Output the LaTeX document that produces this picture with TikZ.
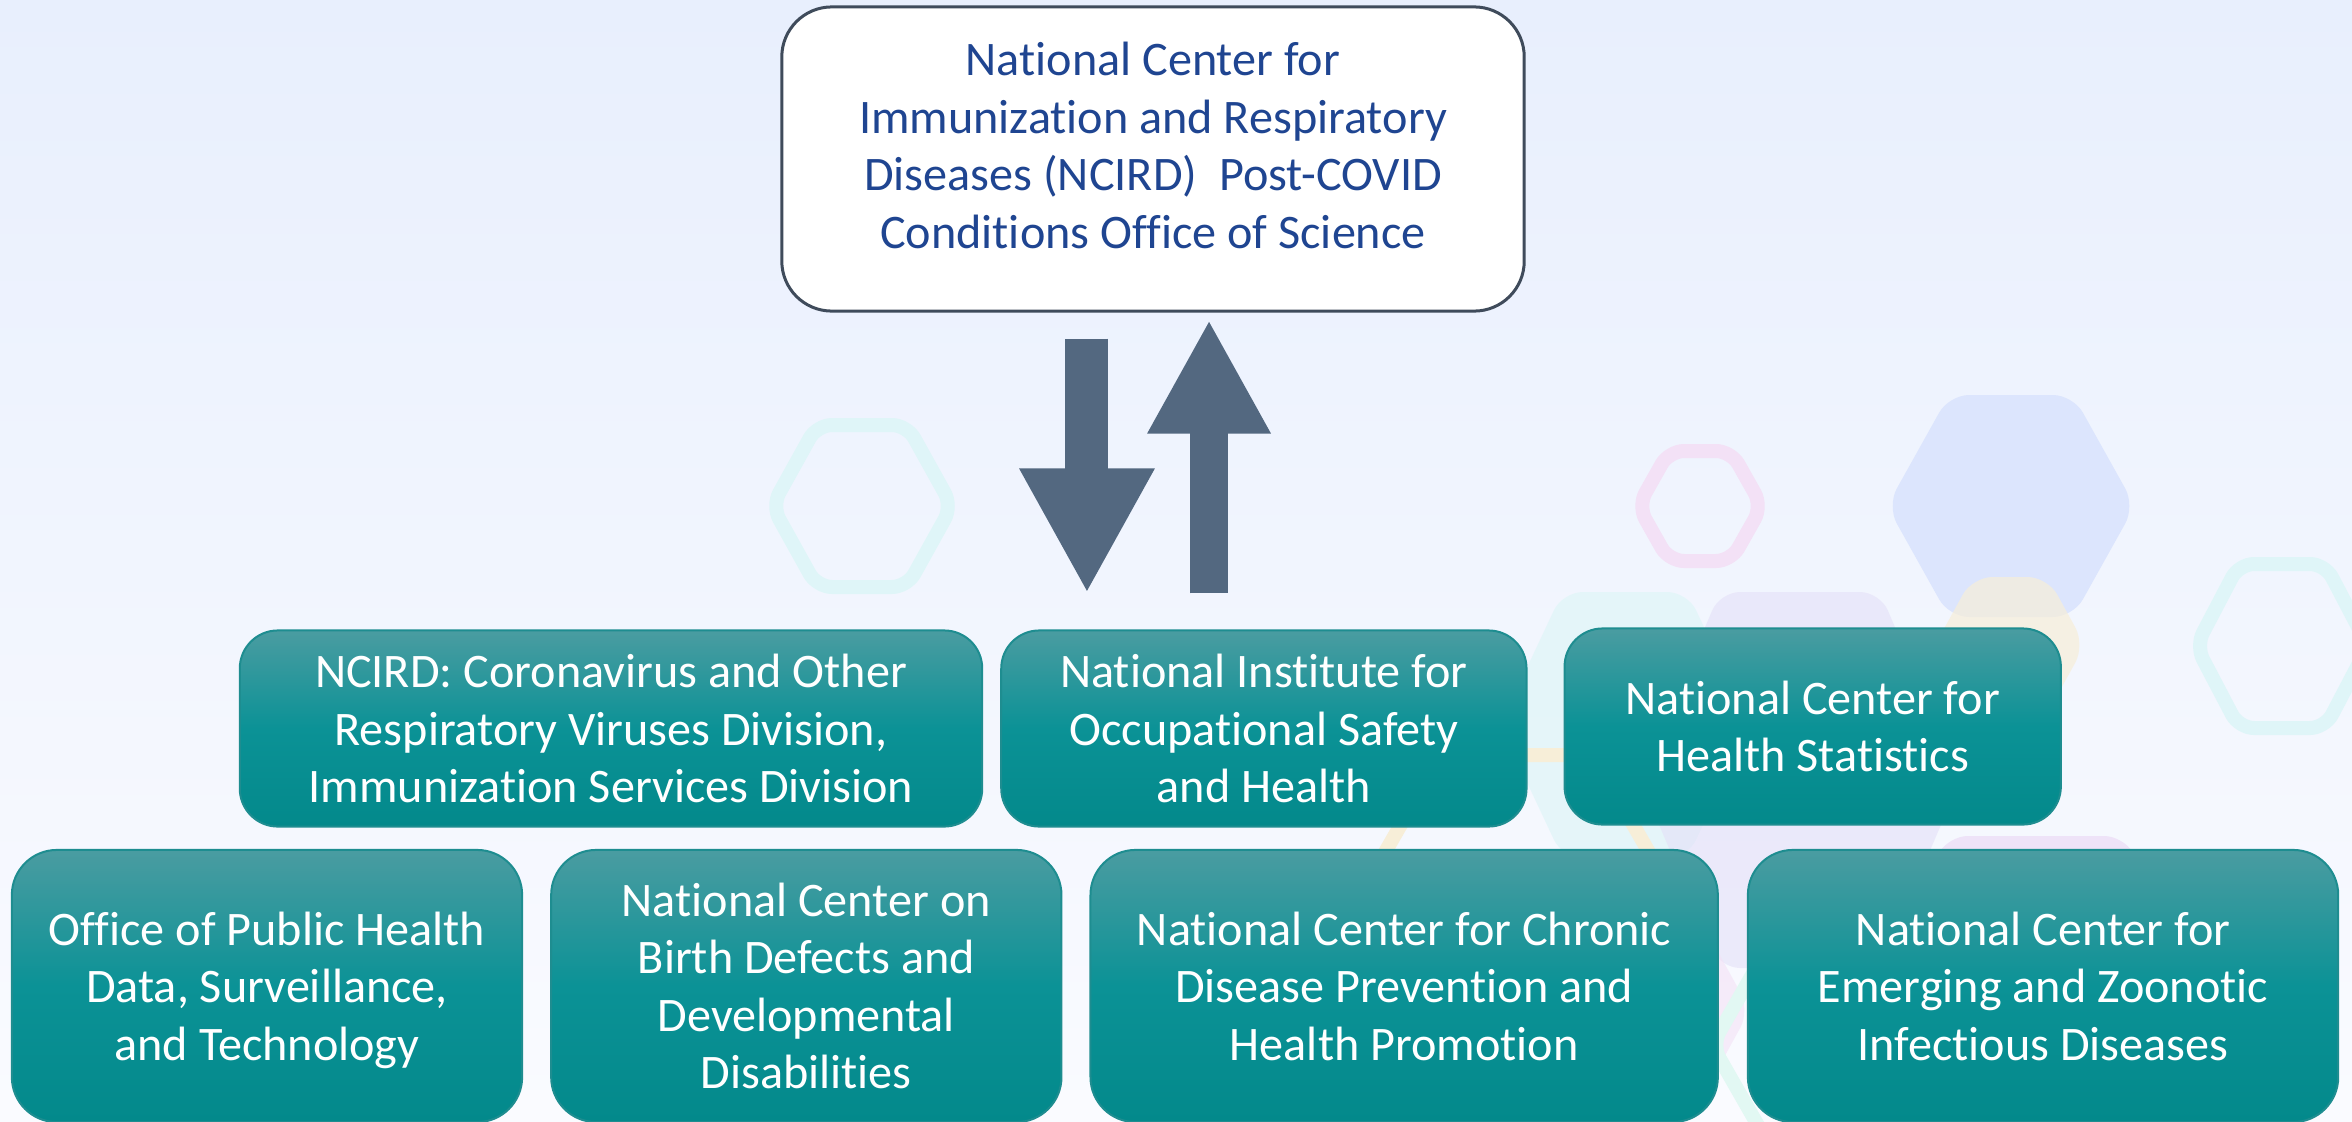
\documentclass[tikz,border=0pt]{standalone}
\usepackage{fontspec}
\setmainfont{Carlito}[Ligatures={TeX,NoCommon}]
\usetikzlibrary{positioning,arrows.meta}

\definecolor{bgtop}{HTML}{E8EFFD}
\definecolor{bgbottom}{HTML}{FAFBFF}
\definecolor{tealtop}{HTML}{4A9CA1}
\definecolor{tealmid}{HTML}{0B9296}
\definecolor{tealbot}{HTML}{03898B}
\definecolor{tealedge}{HTML}{1E8D90}
\definecolor{ncirdblue}{HTML}{1F4591}
\definecolor{boxedge}{HTML}{3F4B5B}
\definecolor{slate}{HTML}{536880}
\definecolor{hexcyan}{HTML}{DFF5F8}
\definecolor{hexpink}{HTML}{F3E1F6}
\definecolor{hexblue}{HTML}{DCE5FD}
\definecolor{hexyellow}{HTML}{F7EED8}
\definecolor{hexlilac}{HTML}{E4E0F8}
\definecolor{hexrose}{HTML}{EEE3F8}
\definecolor{hexmint}{HTML}{E2F8F3}

\newcommand{\unitfont}{\fontsize{13.7}{16.36}\selectfont}

\tikzset{
  topbox/.style={shape=rectangle, rounded corners=0.5cm, draw=boxedge, line width=0.03cm,
    fill=white, minimum width=7.42cm, minimum height=3.04cm},
  toptext/.style={text=ncirdblue, font=\unitfont, align=center, inner sep=0pt},
  unit/.style={shape=rectangle, draw=tealedge, line width=0.02cm, top color=tealtop,
    bottom color=tealbot, middle color=tealmid, text=white, font=\unitfont,
    align=center, inner sep=0pt},
  midunit/.style={unit, rounded corners=0.38cm, minimum height=1.96cm},
  lowunit/.style={unit, rounded corners=0.45cm, minimum height=2.72cm},
  flowarrow/.style={slate, line cap=butt},
  hexline/.style={line width=0.14cm, rounded corners=0.15cm},
  hexfill/.style={rounded corners=0.2cm},
}

\begin{document}
\begin{tikzpicture}[x=0.01cm, y=-0.01cm]
  % page background
  \useasboundingbox (0,0) rectangle (2352,1121);
  \shade[top color=bgtop, bottom color=bgbottom] (0,0) rectangle (2352,1121);

  % faint hexagons behind the boxes
  \foreach \cx/\cy/\r/\h/\col/\op in {2011/506/124/111/hexblue/1, 2010/645/75/68/hexyellow/0.7,
      1625/725/125/133/hexcyan/0.7, 1800/780/160/188/hexlilac/0.6, 1640/1010/110/100/hexpink/0.6}
    \fill[hexfill, fill=\col, opacity=\op] ({\cx-\r},\cy) -- ({\cx-\r/2},{\cy-\h})
      -- ({\cx+\r/2},{\cy-\h}) -- ({\cx+\r},\cy) -- ({\cx+\r/2},{\cy+\h})
      -- ({\cx-\r/2},{\cy+\h}) -- cycle;
  \foreach \cx/\cy/\r/\h/\col in {862/506/90/81/hexcyan, 1700/506/62/55/hexpink,
      2282/646/86/82/hexcyan, 1517/887/152/132/hexyellow, 2036/983/166/140/hexrose,
      1832/1045/120/105/hexmint}
    \draw[hexline, draw=\col] ({\cx-\r},\cy) -- ({\cx-\r/2},{\cy-\h})
      -- ({\cx+\r/2},{\cy-\h}) -- ({\cx+\r},\cy) -- ({\cx+\r/2},{\cy+\h})
      -- ({\cx-\r/2},{\cy+\h}) -- cycle;

  % the office on top
  \node (pcbox) [topbox] at (1153,159) {};
  \node (pctext) [toptext] at ([yshift=0.135cm]pcbox.center) {National Center for\\
    Immunization and Respiratory\\ Diseases (NCIRD)\ \ Post-COVID\\
    Conditions Office of Science};

  % middle row
  \node (ncird) [midunit, minimum width=7.42cm] at (611,728.5) {NCIRD: Coronavirus and Other\\
    Respiratory Viruses Division,\\ Immunization Services Division};
  \node (niosh) [midunit, minimum width=5.25cm, right=0.17cm of ncird] {National Institute for\\
    Occupational Safety\\ and Health};
  \node (nchs) [midunit, minimum width=4.96cm, right=0.36cm of niosh, yshift=0.02cm] {National Center for\\
    Health Statistics};

  % bottom row
  \node (ophdst) [lowunit, minimum width=5.10cm] at (267,986) {Office of Public Health\\
    Data, Surveillance,\\ and \smash{Technology}};
  \node (ncbddd) [lowunit, minimum width=5.10cm, right=0.27cm of ophdst] {National Center on\\
    Birth Defects and\\ Developmental\\ Disabilities};
  \node (nccdphp) [lowunit, minimum width=6.27cm, right=0.27cm of ncbddd] {National Center for Chronic\\
    Disease Prevention and\\ Health Promotion};
  \node (ncezid) [lowunit, minimum width=5.90cm, right=0.28cm of nccdphp] {National Center for\\
    Emerging and Zoonotic\\ Infectious Diseases};

  % two-way link between the office and the centres
  \coordinate (downfrom) at ([xshift=-0.66cm,yshift=-0.26cm]pcbox.south);
  \coordinate (upto) at ([xshift=0.56cm,yshift=-0.07cm]pcbox.south);
  \path (downfrom |- niosh.north) coordinate (downfoot);
  \path (upto |- niosh.north) coordinate (upfoot);
  \draw[flowarrow, line width=0.43cm, -{Triangle[length=1.25cm,width=1.26cm]}]
    (downfrom) -- ([yshift=0.36cm]downfoot);
  \draw[flowarrow, line width=0.38cm, -{Triangle[length=1.14cm,width=1.15cm]}]
    ([yshift=0.36cm]upfoot) -- (upto);
\end{tikzpicture}
\end{document}
